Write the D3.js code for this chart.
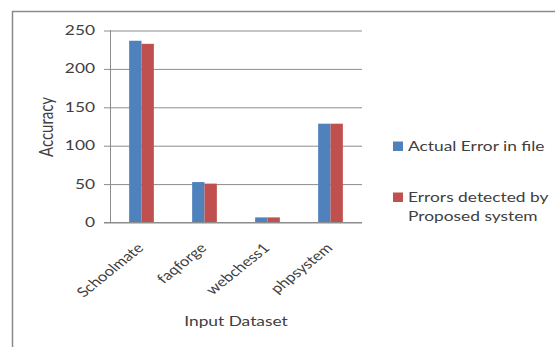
<!DOCTYPE html>
<html>
<head>
<meta charset="utf-8">
<script src="https://cdn.jsdelivr.net/npm/d3@7"></script>
<style>
  html, body { margin: 0; padding: 0; background: #fff; }
  svg { display: block; font-family: Lato, "Open Sans", sans-serif; }
</style>
</head>
<body>
<svg id="chart" width="555" height="347"></svg>
<script>
// Datasets and error counts
const categories = ["Schoolmate", "faqforge", "webchess1", "phpsystem"];
const seriesNames = ["Actual Error in file", "Errors detected by Proposed system"];
const actualErrors = [236, 52, 6, 128];
const detectedErrors = [232, 50, 6, 128];
const yTicks = [0, 50, 100, 150, 200, 250];
const colors = ["#4F81BD", "#C0504D"];

const svg = d3.select("#chart");
const textColor = "#404040";
const gridColor = "#8c8c8c";
const fontSize = 14;
const stretch = 1.24; // labels are drawn slightly wide

// Outer chart frame (continues past the right and bottom edges)
svg.append("rect")
  .attr("x", 12.5).attr("y", 11.5)
  .attr("width", 600).attr("height", 400)
  .attr("fill", "none").attr("stroke", "#8a8a8a").attr("stroke-width", 1.5);

const plot = { left: 110, right: 362, top: 30, bottom: 222 };

const x = d3.scaleBand().domain(categories).range([plot.left, plot.right]);
const sub = d3.scaleBand().domain([0, 1]).range([0, x.bandwidth()]).paddingInner(0).paddingOuter(1.55);
const y = d3.scaleLinear().domain([0, 250]).range([plot.bottom, plot.top]);

// Horizontal gridlines with tick marks to the left
const yAxis = d3.axisLeft(y).tickValues(yTicks).tickSize(plot.right - plot.left + 6).tickFormat("");
const gy = svg.append("g")
  .attr("transform", `translate(${plot.right},0)`)
  .call(yAxis);
gy.select(".domain").remove();
gy.selectAll(".tick line").attr("stroke", gridColor).attr("stroke-width", 1)
  .attr("transform", "translate(0,0.5)");

// Tick labels
svg.append("g").selectAll("text").data(yTicks).join("text")
  .attr("transform", d => `translate(95,${y(d)}) scale(${stretch},1)`)
  .attr("dy", "0.36em")
  .attr("text-anchor", "end")
  .attr("fill", textColor).attr("font-size", fontSize)
  .text(d => d);

// Vertical axis line
svg.append("line")
  .attr("x1", plot.left + 0.5).attr("x2", plot.left + 0.5)
  .attr("y1", plot.top).attr("y2", plot.bottom)
  .attr("stroke", gridColor);

// Bars
const rows = categories.map((c, i) => ({ cat: c, vals: [actualErrors[i], detectedErrors[i]] }));
const groups = svg.append("g").selectAll("g").data(rows).join("g")
  .attr("transform", d => `translate(${x(d.cat)},0)`);
groups.selectAll("rect")
  .data(d => d.vals.map((v, k) => ({ v, k })))
  .join("rect")
  .attr("x", d => sub(d.k))
  .attr("width", sub.bandwidth())
  .attr("y", d => y(d.v))
  .attr("height", d => y(0) - y(d.v))
  .attr("fill", d => colors[d.k]);

// Baseline
svg.append("line")
  .attr("x1", plot.left - 6).attr("x2", plot.right)
  .attr("y1", plot.bottom + 0.5).attr("y2", plot.bottom + 0.5)
  .attr("stroke", gridColor);

// Rotated category labels
svg.append("g").selectAll("text").data(categories).join("text")
  .attr("transform", d => `translate(${x(d) + x.bandwidth() / 2 + 3},249) scale(${stretch},1) rotate(-45)`)
  .attr("text-anchor", "end")
  .attr("fill", textColor).attr("font-size", 13.5)
  .text(d => d);

// Axis titles
svg.append("text")
  .attr("transform", `translate(53,127) scale(${stretch},1) rotate(-90)`)
  .attr("text-anchor", "middle")
  .attr("fill", textColor).attr("font-size", 15)
  .text("Accuracy");
svg.append("text")
  .attr("transform", `translate(236,326) scale(${stretch},1)`)
  .attr("text-anchor", "middle")
  .attr("fill", textColor).attr("font-size", fontSize)
  .text("Input Dataset");

// Legend
const legend = svg.append("g");
const legendItems = [
  { lines: ["Actual Error in file"], y: 151 },
  { lines: ["Errors detected by", "Proposed system"], y: 202 }
];
legendItems.forEach((item, i) => {
  legend.append("rect")
    .attr("x", 393).attr("y", item.y - 9.5)
    .attr("width", 10).attr("height", 9.5)
    .attr("fill", colors[i]);
  const t = legend.append("text")
    .attr("transform", `translate(408,${item.y}) scale(${stretch},1)`)
    .attr("fill", textColor).attr("font-size", fontSize);
  item.lines.forEach((ln, j) => {
    t.append("tspan").attr("x", 0).attr("dy", j === 0 ? 0 : 19).text(ln);
  });
});
</script>
</body>
</html>
